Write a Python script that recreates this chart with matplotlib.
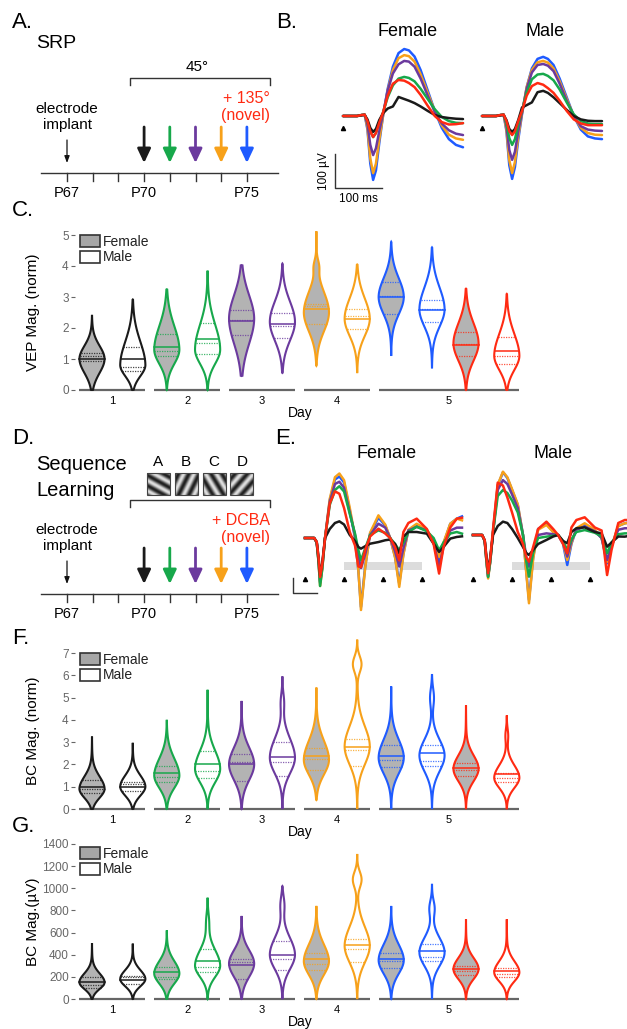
import numpy as np
import matplotlib
matplotlib.use('Agg')
import matplotlib.pyplot as plt
from matplotlib.patches import Rectangle, Polygon

plt.rcParams['font.family'] = ['Liberation Sans', 'DejaVu Sans']

W, H = 627, 1029

# colours per recording day (day 5 novel = red)
K, GR, PU, OR, BL, RD = '#1a1a1a', '#17a84b', '#6b3a9e', '#f7a11a', '#1f5bff', '#ff2a12'
FEM_FILL = '#b3b3b3'

# ---------------- data ----------------
# B: SRP VEP traces (uV), time in ms
b_time = [0, 30, 40, 46, 52, 58, 64, 70, 77, 85, 95, 106, 118, 130, 140, 152, 165, 180, 195, 210, 225, 240, 255]
b_female = {
    BL: [0, 0, 3, 4, -40, -140, -188, -160, -80, 0, 80, 145, 185, 197, 193, 175, 135, 75, 15, -35, -68, -85, -92],
    OR: [0, 0, 3, 4, -35, -125, -168, -140, -70, 0, 75, 135, 170, 179, 176, 160, 122, 68, 15, -28, -55, -66, -70],
    PU: [0, 0, 3, 4, -25, -85, -115, -95, -45, 5, 75, 125, 152, 162, 160, 145, 110, 60, 12, -22, -42, -52, -56],
    GR: [0, 0, 3, 4, -15, -45, -62, -50, -20, 10, 55, 90, 110, 115, 112, 102, 80, 50, 20, -3, -15, -20, -21],
    K:  [0, 0, 2, 3, -10, -35, -47, -38, -12, 8, 22, 28, 56, 50, 45, 38, 28, 15, 3, -3, -6, -8, -9],
    RD: [0, 0, 3, 4, -15, -45, -62, -50, -20, 10, 60, 95, 106, 104, 97, 85, 62, 30, 0, -18, -25, -24, -21],
}
b_male = {
    BL: [0, 0, 3, 4, -45, -145, -185, -150, -70, 5, 85, 140, 168, 174, 168, 150, 110, 55, 0, -40, -60, -66, -68],
    OR: [0, 0, 3, 4, -40, -130, -168, -135, -60, 8, 85, 135, 158, 162, 157, 140, 102, 50, 0, -35, -50, -55, -56],
    PU: [0, 0, 3, 4, -30, -100, -129, -105, -45, 10, 80, 128, 150, 153, 148, 132, 95, 45, 0, -30, -40, -43, -44],
    GR: [0, 0, 3, 4, -22, -65, -85, -68, -25, 15, 70, 108, 122, 124, 118, 105, 78, 40, 5, -15, -22, -24, -24],
    K:  [0, 0, 2, 3, -12, -38, -47, -38, -12, 25, 32, 40, 70, 74, 68, 55, 38, 18, 0, -10, -14, -15, -15],
    RD: [0, 0, 3, 4, -15, -45, -56, -45, -15, 15, 60, 88, 97, 92, 82, 68, 45, 15, -10, -22, -27, -27, -27],
}

# E: sequence evoked traces (uV), time in ms
e_time = [0, 35, 45, 52, 58, 66, 77, 95, 115, 132, 150, 172, 192, 205, 215, 231, 250, 282, 308, 327,
          346, 362, 378, 397, 429, 468, 494, 515, 532, 558, 583, 603]
e_female = {
    BL: [0, 0, -30, -150, -300, -200, 0, 250, 390, 410, 370, 184, 0, -215, -460, -193, 29, 135, 84, 0,
         -127, -304, -104, 51, 84, 51, -27, -149, -38, 95, 129, 144],
    OR: [0, 0, -30, -160, -320, -210, 0, 260, 405, 430, 385, 200, 10, -215, -480, -200, 35, 151, 90, 0,
         -130, -326, -110, 55, 95, 55, -20, -127, -30, 95, 129, 118],
    PU: [0, 0, -30, -150, -290, -195, 0, 240, 360, 375, 335, 170, 20, -120, -200, -110, 20, 95, 70, 0,
         -90, -190, -70, 50, 75, 50, -30, -193, -60, 50, 69, 69],
    GR: [0, 0, -30, -160, -320, -210, 0, 220, 320, 345, 310, 160, 30, -80, -149, -70, 20, 51, 35, 0,
         -40, -82, -30, 40, 75, 45, 0, -82, -30, 30, 40, 29],
    K:  [0, 0, -25, -130, -250, -170, 0, 60, 100, 111, 90, 20, -20, -60, -71, -55, -38, -27, -15, -10,
         -40, -104, 10, 40, 40, 29, -38, -93, -60, -4, 7, 11],
    RD: [0, 0, -25, -130, -260, -180, 0, 230, 311, 295, 200, 40, -50, -190, -195, -80, 10, 62, 30, 0,
         -60, -149, 40, 100, 129, 60, -40, -237, -60, 70, 129, 135],
}
e_male = {
    BL: [0, 0, -40, -180, -278, -180, 20, 330, 418, 380, 300, 200, 0, -250, -433, -150, 40, 78, 20, 0,
         -60, -200, -60, 40, 67, 30, -20, -189, -80, 60, 78, 85],
    OR: [0, 0, -40, -185, -290, -185, 20, 335, 422, 385, 305, 205, 0, -260, -455, -160, 35, 67, 20, 0,
         -55, -167, -55, 45, 78, 35, -20, -178, -75, 60, 78, 80],
    PU: [0, 0, -40, -175, -275, -175, 20, 300, 366, 340, 270, 180, 0, -150, -211, -100, 0, 11, 5, 0,
         -50, -144, -40, 35, 55, 25, -20, -167, -70, 35, 45, 45],
    GR: [0, 0, -40, -180, -280, -180, 20, 260, 300, 280, 230, 150, 0, -180, -278, -120, -20, -11, -5, 0,
         -40, -100, -30, 20, 33, 15, -10, -122, -50, 5, 11, 11],
    K:  [0, 0, -35, -150, -233, -150, 0, 60, 89, 80, 40, -20, -80, -120, -133, -100, -60, -33, -10, 0,
         -40, -55, 20, 45, 51, 20, 11, -78, -50, -10, -11, -5],
    RD: [0, 0, -35, -160, -255, -160, 40, 349, 330, 250, 150, 20, -60, -150, -178, -80, 40, 89, 40, 0,
         -60, -122, 50, 100, 118, 50, 30, -267, -100, 80, 100, 100],
}

# violin groups: female/male per day, day 5 has 45deg (blue) and novel (red)
violin_pos = [0, 1.2, 2.2, 3.4, 4.4, 5.6, 6.6, 7.8, 8.8, 10.0, 11.0, 12.2]
violin_col = [K, K, GR, GR, PU, PU, OR, OR, BL, BL, RD, RD]
violin_female = [1, 0, 1, 0, 1, 0, 1, 0, 1, 0, 1, 0]
day_labels = ['1', '2', '3', '4', '5']
day_members = [[0, 1], [2, 3], [4, 5], [6, 7], [8, 9, 10, 11]]

# C: VEP magnitude (norm)
vep_lo = [0, 0, 0, 0, 0.45, 0.55, 0.78, 0.55, 1.1, 0.7, 0, 0]
vep_hi = [2.42, 2.92, 3.25, 3.85, 4.03, 4.08, 5.12, 4.05, 4.78, 4.6, 3.27, 3.1]
vep_peak = [1.0, 0.8, 1.3, 1.3, 2.3, 2.2, 2.5, 2.3, 3.0, 2.6, 1.5, 1.1]
vep_sd_lo = [0.45, 0.35, 0.45, 0.45, 0.8, 0.6, 0.6, 0.55, 0.55, 0.55, 0.55, 0.45]
vep_sd_hi = [0.42, 0.75, 0.75, 0.8, 0.75, 0.65, 0.65, 0.65, 0.6, 0.7, 0.65, 0.7]
vep_bumps = {6: (4.0, 0.15, 0.2)}
vep_mean = [1.0, 1.0, 1.4, 1.65, 2.22, 2.12, 2.62, 2.3, 3.0, 2.58, 1.45, 1.25]
vep_dotted = [[0.92, 1.1, 1.2], [0.62, 0.75, 1.38], [1.1, 1.25, 1.82], [1.17, 1.52, 2.15],
              [1.77, 2.27, 2.57], [1.67, 2.05, 2.48], [2.13, 2.7, 2.77], [1.97, 2.38, 2.62],
              [2.45, 3.03, 3.47], [2.2, 2.6, 2.9], [1.1, 1.5, 1.88], [0.85, 1.1, 1.72]]

# F: BC magnitude (norm)
bcn_lo = [0, 0, 0, 0, 0, 0, 0.4, 0, 0, 0, 0, 0]
bcn_hi = [3.25, 2.97, 4.0, 5.35, 4.85, 5.95, 5.45, 7.6, 5.5, 6.05, 4.65, 4.2]
bcn_peak = [0.9, 1.0, 1.5, 1.8, 2.0, 2.3, 2.2, 2.8, 2.3, 2.4, 1.8, 1.4]
bcn_sd_lo = [0.4, 0.4, 0.55, 0.6, 0.7, 0.7, 0.65, 0.8, 0.7, 0.7, 0.55, 0.45]
bcn_sd_hi = [0.55, 0.5, 0.75, 0.8, 0.75, 0.85, 0.85, 0.9, 0.8, 0.7, 0.6, 0.55]
bcn_bumps = {5: (4.8, 0.12, 0.4), 7: (6.5, 0.35, 0.35), 9: (5.0, 0.15, 0.4), 11: (3.3, 0.1, 0.3)}
bcn_mean = [1.0, 1.0, 1.6, 2.0, 2.0, 2.35, 2.4, 2.8, 2.4, 2.5, 1.85, 1.55]
bcn_dotted = [[0.7, 0.9, 1.3], [0.8, 1.1, 1.2], [1.2, 1.45, 1.95], [1.4, 1.7, 2.6],
              [1.25, 2.1, 2.45], [1.5, 2.1, 3.0], [1.75, 2.25, 2.75], [1.95, 2.65, 3.15],
              [1.9, 2.2, 2.85], [1.95, 2.15, 2.85], [1.5, 1.75, 2.05], [1.2, 1.4, 1.6]]

# G: BC magnitude (uV)
bcu_lo = [0] * 12
bcu_hi = [505, 500, 620, 915, 750, 1020, 840, 1310, 840, 1040, 720, 720]
bcu_peak = [150, 180, 230, 300, 320, 400, 340, 480, 350, 420, 270, 240]
bcu_sd_lo = [60, 65, 90, 100, 120, 130, 120, 150, 120, 120, 90, 80]
bcu_sd_hi = [80, 80, 110, 140, 120, 150, 150, 170, 140, 130, 100, 100]
bcu_bumps = {3: (700, 0.1, 80), 5: (850, 0.15, 80), 7: (1080, 0.35, 70), 9: (820, 0.2, 70)}
bcu_mean = [150, 175, 240, 345, 310, 400, 360, 485, 360, 430, 270, 250]
bcu_dotted = [[100, 130, 200], [135, 195, 210], [180, 200, 290], [240, 290, 450],
              [185, 330, 360], [260, 360, 520], [260, 320, 420], [330, 450, 540],
              [280, 340, 420], [340, 380, 500], [220, 250, 300], [200, 230, 280]]

# timeline schematic
tl_days = [0, 1, 2, 3, 4, 5, 6, 7]
tl_labels = {0: 'P67', 3: 'P70', 7: 'P75'}
arrow_days = [3, 4, 5, 6, 7]
arrow_cols = [K, GR, PU, OR, BL]
grating_names = ['A', 'B', 'C', 'D']
grating_angles = [-30, 65, -60, 50]

# ---------------- figure ----------------
fig = plt.figure(figsize=(W / 100, H / 100), dpi=100)
ov = fig.add_axes([0, 0, 1, 1])
ov.set_xlim(0, W)
ov.set_ylim(H, 0)
ov.axis('off')


def px_axes(x0, y0, x1, y1):
    ax = fig.add_axes([x0 / W, 1 - y1 / H, (x1 - x0) / W, (y1 - y0) / H])
    ax.patch.set_alpha(0)
    return ax


# panel letters and titles
for lab, x, y in [('A.', 12, 22), ('B.', 276, 22), ('C.', 12, 210), ('D.', 12, 438),
                  ('E.', 275, 438), ('F.', 12, 638), ('G.', 12, 826)]:
    ov.text(x, y, lab, fontsize=16, ha='left', va='center')
ov.text(36, 43, 'SRP', fontsize=14, ha='left', va='center')
ov.text(36, 465, 'Sequence', fontsize=14.5, ha='left', va='center')
ov.text(36, 490, 'Learning', fontsize=14.5, ha='left', va='center')


def timeline(y0, bracket_y, red_text):
    x_of = lambda d: 67 + 25.7 * d
    ov.plot([41, 278], [y0, y0], color='#333', lw=1)
    for d in tl_days:
        ov.plot([x_of(d), x_of(d)], [y0, y0 + 8], color='#333', lw=1)
        if d in tl_labels:
            ov.text(x_of(d), y0 + 20, tl_labels[d], fontsize=10.5, ha='center', va='center')
    for d, c in zip(arrow_days, arrow_cols):
        ov.annotate('', xy=(x_of(d), y0 - 10), xytext=(x_of(d), y0 - 46),
                    arrowprops=dict(arrowstyle='-|>,head_width=0.4,head_length=0.85',
                                    color=c, lw=2, shrinkA=0, shrinkB=0))
    ov.annotate('', xy=(x_of(0), y0 - 10), xytext=(x_of(0), y0 - 33),
                arrowprops=dict(arrowstyle='-|>,head_width=0.15,head_length=0.4',
                                color='#111', lw=0.9, shrinkA=0, shrinkB=0))
    ov.text(x_of(0), y0 - 56, 'electrode\nimplant', fontsize=11, ha='center', va='center',
            linespacing=1.15)
    ov.plot([130, 130, 270, 270], [bracket_y + 7, bracket_y, bracket_y, bracket_y + 7],
            color='#333', lw=1)
    ov.text(270, bracket_y + 29, red_text + '\n(novel)', fontsize=11.5, color=RD,
            ha='right', va='center', linespacing=1.15)


timeline(173, 78, '+ 135°')
ov.text(197, 67, '45°', fontsize=11, ha='center', va='center')
timeline(594, 500, '+ DCBA')

# grating stimuli
g = np.linspace(-1, 1, 48)
gx, gy = np.meshgrid(g, g)
for i, (name, ang) in enumerate(zip(grating_names, grating_angles)):
    x0 = 147 + 27.8 * i
    a = np.deg2rad(ang)
    img = np.sin((gx * np.sin(a) + gy * np.cos(a)) * np.pi * 2.4)
    ov.imshow(img, cmap='gray', extent=(x0, x0 + 23, 495, 473), vmin=-1.3, vmax=1.3,
              interpolation='bilinear', zorder=2)
    ov.add_patch(Rectangle((x0, 473), 23, 22, fill=False, ec='#444', lw=0.8, zorder=3))
    ov.text(x0 + 11.5, 462, name, fontsize=11, ha='center', va='center')
ov.set_xlim(0, W)
ov.set_ylim(H, 0)


# ---------------- traces ----------------
def trace_axes(x0, x_end, t_end, y_base, ppu, top, bottom):
    ax = px_axes(x0, top, x_end, bottom)
    ax.set_xlim(0, t_end)
    ax.set_ylim(-(bottom - y_base) / ppu, (y_base - top) / ppu)
    ax.axis('off')
    return ax


for x0, traces, title, tx in [(343, b_female, 'Female', 408), (482, b_male, 'Male', 545)]:
    ax = trace_axes(x0, x0 + 120, b_time[-1], 116, 0.34, 40, 200)
    for c, v in traces.items():
        ax.plot(b_time, v, color=c, lw=1.8, clip_on=False, solid_capstyle='round')
    ax.plot([0], [-35], marker='^', ms=3, color='k', clip_on=False)
    ov.text(tx, 32, title, fontsize=13, ha='center', va='center')

# B scale bar
ov.plot([335, 335, 382], [154, 188, 188], color='#333', lw=1)
ov.text(324, 171, '100 µV', fontsize=8.5, rotation=90, ha='center', va='center')
ov.text(358, 199, '100 ms', fontsize=8.5, ha='center', va='center')

for x0, traces, title, tx, yb in [(305, e_female, 'Female', 387, 538), (473, e_male, 'Male', 553, 535)]:
    ax = trace_axes(x0, x0 + 157, e_time[-1], yb, 0.15, 460, 615)
    ax.add_patch(Rectangle((150, -(570 - yb) / 0.15), 300, 8 / 0.15, color='#dcdcdc', lw=0, zorder=0))
    for c, v in traces.items():
        ax.plot(e_time, v, color=c, lw=1.8, clip_on=False)
    ax.plot([0, 150, 300, 450], [-(579 - yb) / 0.15] * 4, ls='none', marker='^', ms=3,
            color='k', clip_on=False)
    ov.text(tx, 453, title, fontsize=13, ha='center', va='center')

ov.plot([293, 293, 317], [578, 593, 593], color='#333', lw=1)


# ---------------- violins ----------------
HALF = 0.37


def draw_panel(top, bottom, ymax, yticks, ylabel, lo, hi, peak, sd_lo, sd_hi, bumps, mean, dotted,
               leg_y):
    ax = px_axes(75, top, 525, bottom)
    ax.set_xlim((75 - 92) / 34, (525 - 92) / 34)
    ax.set_ylim(0, ymax)
    for i in range(12):
        y = np.linspace(lo[i], hi[i], 400)
        s = np.where(y < peak[i], sd_lo[i], sd_hi[i])
        w = np.exp(-0.5 * ((y - peak[i]) / s) ** 2)
        if i in bumps:
            by, bw, bs = bumps[i]
            w = w + bw * np.exp(-0.5 * ((y - by) / bs) ** 2)
        tail = np.where(y > peak[i], (hi[i] - y) / (hi[i] - peak[i]),
                        (y - lo[i]) / max(peak[i] - lo[i], 1e-9))
        w = w + 0.05 * tail
        w = w / w.max()
        w[0] = w[-1] = 0
        p = violin_pos[i]
        xs = np.concatenate([p - w * HALF, (p + w * HALF)[::-1]])
        ys = np.concatenate([y, y[::-1]])
        ax.add_patch(Polygon(np.column_stack([xs, ys]), closed=True,
                             fc=FEM_FILL if violin_female[i] else 'white',
                             ec=violin_col[i], lw=1.5, clip_on=False, zorder=3))
        hw = np.interp(mean[i], y, w) * HALF
        ax.plot([p - hw, p + hw], [mean[i], mean[i]], color=violin_col[i], lw=1.1, zorder=4,
                clip_on=False)
        for d in dotted[i]:
            hw = np.interp(d, y, w) * HALF
            ax.plot([p - hw, p + hw], [d, d], color=violin_col[i], lw=0.9, ls=(0, (1, 1)),
                    alpha=0.8, zorder=4, clip_on=False)
    centers = []
    for members in day_members:
        a, b = violin_pos[members[0]], violin_pos[members[-1]]
        ax.plot([a - 0.37, b + 0.37], [0, 0], color='#666', lw=1.6, zorder=2, clip_on=False,
                solid_capstyle='butt')
        centers.append((a + b) / 2)
    for sp in ax.spines.values():
        sp.set_visible(False)
    ax.set_xticks(centers)
    ax.set_xticklabels(day_labels)
    ax.set_yticks(yticks)
    ax.tick_params(axis='x', length=0, labelsize=8, pad=4)
    ax.tick_params(axis='y', length=3, width=0.8, colors='#666', labelsize=8.5, pad=1.5)
    ax.set_xlabel('Day', fontsize=10, labelpad=0)
    ax.set_ylabel(ylabel, fontsize=11)
    ax.yaxis.set_label_coords(-0.078, 0.5)
    # legend boxes
    for k, (lab, fc) in enumerate([('Female', '#a6a6a6'), ('Male', 'white')]):
        yy = leg_y + 15.5 * k
        ov.add_patch(Rectangle((80, yy), 20, 12, fc=fc, ec='#333', lw=1.2))
        ov.text(103, yy + 6.5, lab, fontsize=10, ha='left', va='center', color='#222')
    return ax


draw_panel(235, 390, 5, range(6), 'VEP Mag. (norm)', vep_lo, vep_hi, vep_peak, vep_sd_lo,
           vep_sd_hi, vep_bumps, vep_mean, vep_dotted, 235)
draw_panel(653, 809, 7, range(8), 'BC Mag. (norm)', bcn_lo, bcn_hi, bcn_peak, bcn_sd_lo,
           bcn_sd_hi, bcn_bumps, bcn_mean, bcn_dotted, 653)
draw_panel(844, 999, 1400, range(0, 1401, 200), 'BC Mag.(µV)', bcu_lo, bcu_hi, bcu_peak,
           bcu_sd_lo, bcu_sd_hi, bcu_bumps, bcu_mean, bcu_dotted, 847)

fig.savefig('out.png', dpi=100)
